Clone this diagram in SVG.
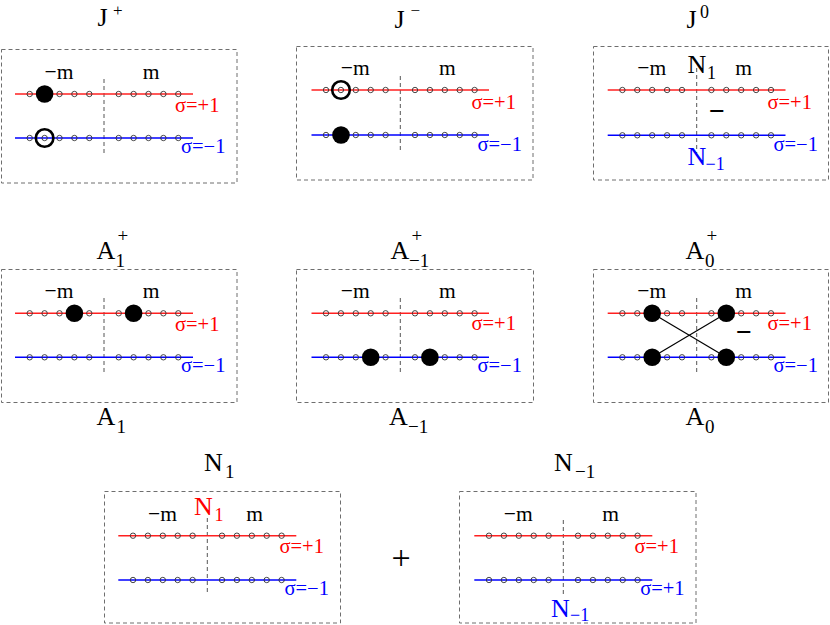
<svg xmlns="http://www.w3.org/2000/svg" xmlns:xlink="http://www.w3.org/1999/xlink" width="830" height="625" viewBox="0 0 830 625">
<style>
.box{fill:none;stroke:#6e6e6e;stroke-width:1;stroke-dasharray:4 3}
.div{stroke:#555;stroke-width:1;stroke-dasharray:4 3}
.rl{stroke:#ff2020;stroke-width:1.5}
.bl{stroke:#0000ff;stroke-width:1.5}
.dot{fill:none;stroke:#333;stroke-width:0.9}
.disk{fill:#000}
.ring{fill:none;stroke:#000;stroke-width:2.6}
.cross{stroke:#000;stroke-width:1.2;fill:none}
text{font-family:"Liberation Serif","Times New Roman",serif;fill:#000}
.lab{font-size:21.5px}
.mid{text-anchor:middle}
.sig{font-size:20.5px}
.red{fill:#ff0000}
.blu{fill:#0000ff}
.ttl{font-size:26px}
.sup{font-size:19px}
.sub{font-size:18px}
.tsp{font-size:17px}
.bar{font-size:28px;font-weight:bold;text-anchor:middle}
</style>
<defs>
<g id="dots">
<circle class="dot" cx="-74.3" cy="0" r="2.7"/><circle class="dot" cx="-59.4" cy="0" r="2.7"/><circle class="dot" cx="-44.5" cy="0" r="2.7"/><circle class="dot" cx="-29.6" cy="0" r="2.7"/><circle class="dot" cx="-14.7" cy="0" r="2.7"/>
<circle class="dot" cx="14.7" cy="0" r="2.7"/><circle class="dot" cx="29.6" cy="0" r="2.7"/><circle class="dot" cx="44.5" cy="0" r="2.7"/><circle class="dot" cx="59.4" cy="0" r="2.7"/><circle class="dot" cx="74.3" cy="0" r="2.7"/>
</g>
</defs>

<g id="panel-Jplus">
<text class="ttl" x="97.5" y="26">J</text><text class="tsp" x="113" y="15.5">+</text>
<rect class="box" x="1.5" y="49.5" width="235.5" height="133.5"/>
<line class="div" x1="104" y1="79" x2="104" y2="154"/>
<line class="rl" x1="15" y1="94" x2="193" y2="94"/>
<line class="bl" x1="15" y1="138" x2="193" y2="138"/>
<use xlink:href="#dots" x="104" y="94"/><use xlink:href="#dots" x="104" y="138"/>
<circle class="disk" cx="44.6" cy="94" r="8.8"/>
<circle class="ring" cx="44.6" cy="138" r="8.8"/>
<text class="lab mid" x="59" y="79">−m</text><text class="lab mid" x="151" y="79">m</text>
<text class="sig red" x="175" y="112">σ=+1</text>
<text class="sig blu" x="181" y="153">σ=−1</text>
</g>

<g id="panel-Jminus">
<text class="ttl" x="394.5" y="28">J</text><text class="tsp" x="410.5" y="15.5">−</text>
<rect class="box" x="296.5" y="46.5" width="236.5" height="133.5"/>
<line class="div" x1="400.3" y1="76" x2="400.3" y2="150"/>
<line class="rl" x1="311.5" y1="90" x2="489" y2="90"/>
<line class="bl" x1="311.5" y1="135" x2="489" y2="135"/>
<use xlink:href="#dots" x="400.3" y="90"/><use xlink:href="#dots" x="400.3" y="135"/>
<circle class="ring" cx="341" cy="90" r="8.8"/>
<circle class="disk" cx="341" cy="135" r="8.8"/>
<text class="lab mid" x="355.3" y="75">−m</text><text class="lab mid" x="447.3" y="75">m</text>
<text class="sig red" x="471.5" y="108.5">σ=+1</text>
<text class="sig blu" x="477.5" y="150.5">σ=−1</text>
</g>

<g id="panel-J0">
<text class="ttl" x="686.5" y="28">J</text><text class="sub" x="700" y="18">0</text>
<rect class="box" x="593.5" y="46.5" width="235" height="133.5"/>
<line class="div" x1="696.7" y1="68" x2="696.7" y2="153"/>
<line class="rl" x1="607.7" y1="90" x2="785.5" y2="90"/>
<line class="bl" x1="607.7" y1="135.3" x2="785.5" y2="135.3"/>
<use xlink:href="#dots" x="696.7" y="90"/><use xlink:href="#dots" x="696.7" y="135.3"/>
<text class="lab mid" x="651.7" y="75">−m</text><text class="lab mid" x="743.7" y="75">m</text>
<text class="ttl" x="687.5" y="73">N</text><text class="sub" x="707" y="79">1</text>
<text class="bar" x="717" y="120">−</text>
<text class="sig red" x="767.5" y="108.5">σ=+1</text>
<text class="sig blu" x="773.5" y="150.5">σ=−1</text>
<text class="ttl blu" x="687.5" y="165">N</text><text class="sub blu" x="705.5" y="170">−1</text>
</g>

<g id="panel-A1">
<text class="ttl" x="96.5" y="259">A</text><text class="sup" x="117.5" y="242">+</text><text class="sup" x="115.5" y="267">1</text>
<rect class="box" x="1.5" y="269.5" width="235.5" height="133"/>
<line class="div" x1="104" y1="298" x2="104" y2="373"/>
<line class="rl" x1="15" y1="313.3" x2="193" y2="313.3"/>
<line class="bl" x1="15" y1="357.3" x2="193" y2="357.3"/>
<use xlink:href="#dots" x="104" y="313.3"/><use xlink:href="#dots" x="104" y="357.3"/>
<circle class="disk" cx="74.4" cy="313.3" r="8.8"/>
<circle class="disk" cx="133.6" cy="313.3" r="8.8"/>
<text class="lab mid" x="59" y="298">−m</text><text class="lab mid" x="151" y="298">m</text>
<text class="sig red" x="175" y="331">σ=+1</text>
<text class="sig blu" x="181" y="372">σ=−1</text>
<text class="ttl" x="96.5" y="425">A</text><text class="sup" x="116.5" y="433">1</text>
</g>

<g id="panel-Aminus1">
<text class="ttl" x="390.5" y="259">A</text><text class="sup" x="411.5" y="242">+</text><text class="sup" x="409" y="267">−1</text>
<rect class="box" x="296.5" y="269.5" width="237" height="133"/>
<line class="div" x1="400.3" y1="298" x2="400.3" y2="373"/>
<line class="rl" x1="311.5" y1="313.3" x2="489" y2="313.3"/>
<line class="bl" x1="311.5" y1="357.3" x2="489" y2="357.3"/>
<use xlink:href="#dots" x="400.3" y="313.3"/><use xlink:href="#dots" x="400.3" y="357.3"/>
<circle class="disk" cx="370.7" cy="357.3" r="8.8"/>
<circle class="disk" cx="429.9" cy="357.3" r="8.8"/>
<text class="lab mid" x="355.3" y="298">−m</text><text class="lab mid" x="447.3" y="298">m</text>
<text class="sig red" x="471.5" y="330">σ=+1</text>
<text class="sig blu" x="477.5" y="371.7">σ=−1</text>
<text class="ttl" x="389" y="425">A</text><text class="sup" x="408" y="433">−1</text>
</g>

<g id="panel-A0">
<text class="ttl" x="685.5" y="259">A</text><text class="sup" x="706.5" y="242">+</text><text class="sup" x="705" y="267">0</text>
<rect class="box" x="593.5" y="269.5" width="235" height="133"/>
<line class="div" x1="696.7" y1="298" x2="696.7" y2="373"/>
<line class="rl" x1="607.7" y1="313.3" x2="785.5" y2="313.3"/>
<line class="bl" x1="607.7" y1="357.3" x2="785.5" y2="357.3"/>
<use xlink:href="#dots" x="696.7" y="313.3"/><use xlink:href="#dots" x="696.7" y="357.3"/>
<circle class="disk" cx="652.2" cy="313.3" r="8.8"/>
<circle class="disk" cx="726.3" cy="313.3" r="8.8"/>
<circle class="disk" cx="652.2" cy="357.3" r="8.8"/>
<circle class="disk" cx="726.3" cy="357.3" r="8.8"/>
<text class="lab mid" x="651.7" y="298">−m</text><text class="lab mid" x="743.7" y="298">m</text>
<text class="bar" x="744" y="341">−</text>
<text class="sig red" x="767.5" y="330">σ=+1</text>
<text class="sig blu" x="773.5" y="371.7">σ=−1</text>
<text class="ttl" x="685.5" y="425">A</text><text class="sup" x="705" y="433">0</text>
</g>

<g id="panel-N1">
<text class="ttl" x="204" y="471">N</text><text class="sup" x="225" y="478">1</text>
<rect class="box" x="104.5" y="491.5" width="236" height="131.5"/>
<line class="div" x1="207.3" y1="518" x2="207.3" y2="595"/>
<line class="rl" x1="118.3" y1="535.7" x2="296.3" y2="535.7"/>
<line class="bl" x1="118.3" y1="580" x2="296.3" y2="580"/>
<use xlink:href="#dots" x="207.3" y="535.7"/><use xlink:href="#dots" x="207.3" y="580"/>
<text class="lab mid" x="162.5" y="521">−m</text><text class="lab mid" x="254.5" y="521">m</text>
<text class="ttl red" x="194" y="515">N</text><text class="sub red" x="214.5" y="521">1</text>
<text class="sig red" x="279.5" y="553">σ=+1</text>
<text class="sig blu" x="284.5" y="595">σ=−1</text>
</g>

<g id="plus">
<text class="mid" style="font-size:34px" x="401" y="569">+</text>
</g>

<g id="panel-Nminus1">
<text class="ttl" x="554" y="471">N</text><text class="sup" x="575" y="478">−1</text>
<rect class="box" x="459.5" y="491.5" width="236.5" height="131.5"/>
<line class="div" x1="563.3" y1="520" x2="563.3" y2="596.7"/>
<line class="rl" x1="474.3" y1="535.7" x2="652.3" y2="535.7"/>
<line class="bl" x1="474.3" y1="580" x2="652.3" y2="580"/>
<use xlink:href="#dots" x="563.3" y="535.7"/><use xlink:href="#dots" x="563.3" y="580"/>
<text class="lab mid" x="518.3" y="521">−m</text><text class="lab mid" x="610.5" y="521">m</text>
<text class="sig red" x="634.5" y="553">σ=+1</text>
<text class="sig blu" x="640.2" y="595">σ=+1</text>
<text class="ttl blu" x="551" y="617">N</text><text class="sub blu" x="570" y="621">−1</text>
</g>

<g id="connectors">
<line class="cross" x1="652.2" y1="313.3" x2="726.3" y2="357.3"/>
<line class="cross" x1="652.2" y1="357.3" x2="726.3" y2="313.3"/>
</g>
</svg>
